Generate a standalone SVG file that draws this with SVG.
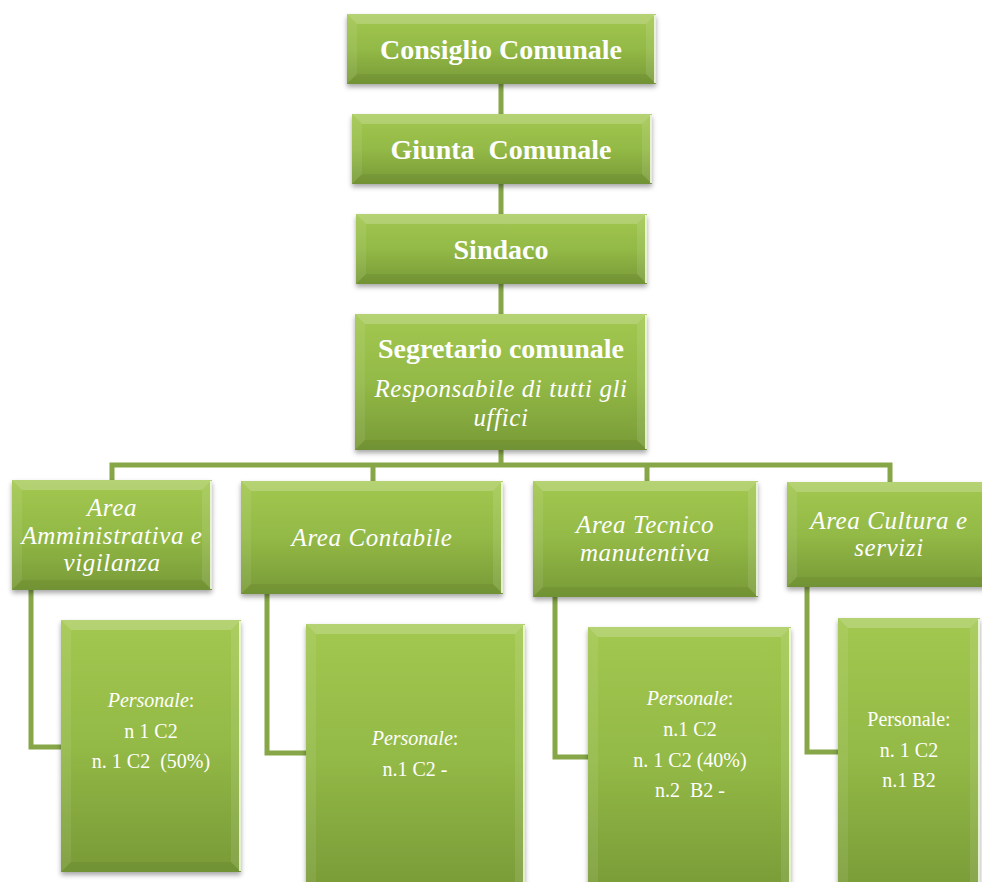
<svg xmlns="http://www.w3.org/2000/svg" width="982" height="882" viewBox="0 0 982 882">
<defs>
<linearGradient id="g" x1="0" y1="0" x2="0" y2="1">
<stop offset="0" stop-color="#a3c851"/>
<stop offset="0.5" stop-color="#93b946"/>
<stop offset="1" stop-color="#789a37"/>
</linearGradient>
<filter id="sh" x="-10%" y="-10%" width="120%" height="130%">
<feDropShadow dx="0" dy="3" stdDeviation="2.5" flood-color="#000" flood-opacity="0.35"/>
</filter>
<style>
.box{fill:url(#g);filter:url(#sh)}
.bt{fill:#ffffff;fill-opacity:0.2}
.bl{fill:#ffffff;fill-opacity:0.08}
.br{fill:#ffffff;fill-opacity:0.1}
.bb{fill:#000000;fill-opacity:0.05}
.hl{stroke:#f4f9e6;stroke-width:2;fill:none;stroke-opacity:0.85}
.conn{fill:none;stroke:#86a648;stroke-width:5}
.t{font-family:"Liberation Serif","Times New Roman",serif;fill:#ffffff;text-anchor:middle;white-space:pre}
.tb{font-weight:bold;font-size:28px}
.ti{font-style:italic;font-size:25px;letter-spacing:0.6px}
.tp{font-size:20px}
</style>
</defs>
<rect width="982" height="882" fill="#ffffff"/>
<g id="connectors">
<path class="conn" d="M501 84 V114 M501 184 V214 M501 284 V314 M501 450 V465"/>
<path class="conn" d="M112 480 V465 H890 V482 M373 465 V481 M647 465 V481"/>
<path class="conn" d="M31 590 V747 H61 M267 594 V753 H306 M555 597 V757 H588 M807 587 V752 H838"/>
</g>
<g id="consiglio">
<rect class="box" x="347" y="14" width="309" height="70"/>
<polygon class="bt" points="347,14 656,14 646,24 357,24"/>
<polygon class="bl" points="347,14 357,24 357,74 347,84"/>
<polygon class="br" points="656,14 656,84 646,74 646,24"/>
<polygon class="bb" points="347,84 656,84 646,74 357,74"/>
<path class="hl" d="M655 15 V83"/>
<text class="t tb" x="501" y="59">Consiglio Comunale</text>
</g>
<g id="giunta">
<rect class="box" x="352" y="114" width="300" height="70"/>
<polygon class="bt" points="352,114 652,114 642,124 362,124"/>
<polygon class="bl" points="352,114 362,124 362,174 352,184"/>
<polygon class="br" points="652,114 652,184 642,174 642,124"/>
<polygon class="bb" points="352,184 652,184 642,174 362,174"/>
<path class="hl" d="M651 115 V183"/>
<text class="t tb" x="501" y="159">Giunta  Comunale</text>
</g>
<g id="sindaco">
<rect class="box" x="356" y="214" width="291" height="70"/>
<polygon class="bt" points="356,214 647,214 637,224 366,224"/>
<polygon class="bl" points="356,214 366,224 366,274 356,284"/>
<polygon class="br" points="647,214 647,284 637,274 637,224"/>
<polygon class="bb" points="356,284 647,284 637,274 366,274"/>
<path class="hl" d="M646 215 V283"/>
<text class="t tb" x="501" y="259">Sindaco</text>
</g>
<g id="segretario">
<rect class="box" x="355" y="314" width="292" height="136"/>
<polygon class="bt" points="355,314 647,314 637,324 365,324"/>
<polygon class="bl" points="355,314 365,324 365,440 355,450"/>
<polygon class="br" points="647,314 647,450 637,440 637,324"/>
<polygon class="bb" points="355,450 647,450 637,440 365,440"/>
<path class="hl" d="M646 315 V449"/>
<text class="t tb" x="501" y="358">Segretario comunale</text>
<text class="t ti" x="501" y="397">Responsabile di tutti gli</text>
<text class="t ti" x="501" y="426">uffici</text>
</g>
<g id="area-amm">
<rect class="box" x="12" y="480" width="200" height="110"/>
<polygon class="bt" points="12,480 212,480 202,490 22,490"/>
<polygon class="bl" points="12,480 22,490 22,580 12,590"/>
<polygon class="br" points="212,480 212,590 202,580 202,490"/>
<polygon class="bb" points="12,590 212,590 202,580 22,580"/>
<path class="hl" d="M211 481 V589"/>
<text class="t ti" x="112" y="516">Area</text>
<text class="t ti" x="112" y="544">Amministrativa e</text>
<text class="t ti" x="112" y="571">vigilanza</text>
</g>
<g id="area-contabile">
<rect class="box" x="241" y="481" width="262" height="113"/>
<polygon class="bt" points="241,481 503,481 493,491 251,491"/>
<polygon class="bl" points="241,481 251,491 251,584 241,594"/>
<polygon class="br" points="503,481 503,594 493,584 493,491"/>
<polygon class="bb" points="241,594 503,594 493,584 251,584"/>
<path class="hl" d="M502 482 V593"/>
<text class="t ti" x="372" y="546">Area Contabile</text>
</g>
<g id="area-tecnico">
<rect class="box" x="533" y="481" width="225" height="116"/>
<polygon class="bt" points="533,481 758,481 748,491 543,491"/>
<polygon class="bl" points="533,481 543,491 543,587 533,597"/>
<polygon class="br" points="758,481 758,597 748,587 748,491"/>
<polygon class="bb" points="533,597 758,597 748,587 543,587"/>
<path class="hl" d="M757 482 V596"/>
<text class="t ti" x="645" y="533">Area Tecnico</text>
<text class="t ti" x="645" y="561">manutentiva</text>
</g>
<g id="area-cultura">
<rect class="box" x="787" y="482" width="205" height="105"/>
<polygon class="bt" points="787,482 992,482 982,492 797,492"/>
<polygon class="bl" points="787,482 797,492 797,577 787,587"/>
<polygon class="bb" points="787,587 992,587 982,577 797,577"/>
<text class="t ti" x="889" y="529">Area Cultura e</text>
<text class="t ti" x="889" y="556">servizi</text>
</g>
<g id="personale-amm">
<rect class="box" x="61" y="620" width="180" height="252"/>
<polygon class="bt" points="61,620 241,620 231,630 71,630"/>
<polygon class="bl" points="61,620 71,630 71,862 61,872"/>
<polygon class="br" points="241,620 241,872 231,862 231,630"/>
<polygon class="bb" points="61,872 241,872 231,862 71,862"/>
<path class="hl" d="M240 621 V871"/>
<text class="t tp" x="151" y="707"><tspan font-style="italic">Personale</tspan>:</text>
<text class="t tp" x="151" y="738">n 1 C2</text>
<text class="t tp" x="151" y="768">n. 1 C2  (50%)</text>
</g>
<g id="personale-contabile">
<rect class="box" x="306" y="624" width="219" height="270"/>
<polygon class="bt" points="306,624 525,624 515,634 316,634"/>
<polygon class="bl" points="306,624 316,634 316,894 306,894"/>
<polygon class="br" points="525,624 525,894 515,894 515,634"/>
<path class="hl" d="M524 625 V882"/>
<text class="t tp" x="415" y="745"><tspan font-style="italic">Personale</tspan>:</text>
<text class="t tp" x="415" y="776">n.1 C2 -</text>
</g>
<g id="personale-tecnico">
<rect class="box" x="588" y="627" width="203" height="270"/>
<polygon class="bt" points="588,627 791,627 781,637 598,637"/>
<polygon class="bl" points="588,627 598,637 598,897 588,897"/>
<polygon class="br" points="791,627 791,897 781,897 781,637"/>
<path class="hl" d="M790 628 V882"/>
<text class="t tp" x="690" y="705"><tspan font-style="italic">Personale</tspan>:</text>
<text class="t tp" x="690" y="736">n.1 C2</text>
<text class="t tp" x="690" y="767">n. 1 C2 (40%)</text>
<text class="t tp" x="690" y="797">n.2  B2 -</text>
</g>
<g id="personale-cultura">
<rect class="box" x="838" y="618" width="142" height="280"/>
<polygon class="bt" points="838,618 980,618 970,628 848,628"/>
<polygon class="bl" points="838,618 848,628 848,898 838,898"/>
<polygon class="br" points="980,618 980,898 970,898 970,628"/>
<path class="hl" d="M979 619 V882"/>
<text class="t tp" x="909" y="726">Personale:</text>
<text class="t tp" x="909" y="757">n. 1 C2</text>
<text class="t tp" x="909" y="787">n.1 B2</text>
</g>
</svg>
